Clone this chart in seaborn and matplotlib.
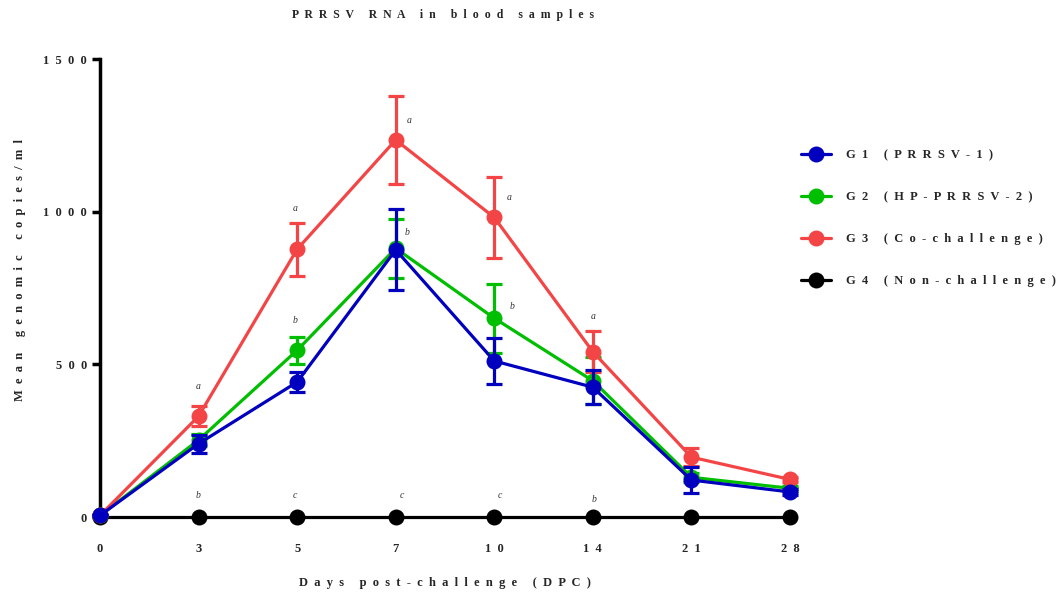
import numpy as np
import pandas as pd
import matplotlib
matplotlib.use("Agg")
import matplotlib.pyplot as plt
import seaborn as sns
from matplotlib.lines import Line2D


def spread(s):
    """Letter-spaced rendering of a label."""
    return "  ".join(s)


# Sampling days (categorical, equally spaced on the axis)
days = [0, 3, 5, 7, 10, 14, 21, 28]

groups = ["G1 (PRRSV-1)",
          "G2 (HP-PRRSV-2)",
          "G3 (Co-challenge)",
          "G4 (Non-challenge)"]
colors = ["#0000BE", "#00BE00", "#F44546", "#000000"]

# Mean genomic copies/ml and SEM per group
g1_mean = [5, 240, 442, 875, 511, 425, 121, 82]
g1_sem = [0, 30, 32, 133, 76, 55, 42, 10]
g2_mean = [5, 252, 546, 880, 651, 446, 130, 94]
g2_sem = [0, 20, 44, 97, 113, 77, 15, 8]
g3_mean = [5, 330, 877, 1235, 981, 541, 196, 123]
g3_sem = [0, 33, 87, 143, 132, 67, 30, 8]
g4_mean = [0, 0, 0, 0, 0, 0, 0, 0]
g4_sem = [0, 0, 0, 0, 0, 0, 0, 0]

means = [g1_mean, g2_mean, g3_mean, g4_mean]
sems = [g1_sem, g2_sem, g3_sem, g4_sem]

# Significance letters: (day index, y position, letter, x shift in categories)
sig_letters = [
    (1, 426, "a", 0.0), (1, 70, "b", 0.0),
    (2, 1012, "a", -0.02), (2, 642, "b", -0.02), (2, 70, "c", -0.02),
    (3, 1297, "a", 0.14), (3, 933, "b", 0.12), (3, 70, "c", 0.06),
    (4, 1045, "a", 0.15), (4, 691, "b", 0.18), (4, 70, "c", 0.06),
    (5, 658, "a", 0.0), (5, 58, "b", 0.01),
]

rows = []
for g, m, s in zip(groups, means, sems):
    for i, (d, mv, sv) in enumerate(zip(days, m, s)):
        rows.append({"group": g, "pos": i, "day": d, "mean": mv, "sem": sv})
df = pd.DataFrame(rows)

sns.set_theme(style="white")
serif = ["Liberation Serif", "DejaVu Serif"]
plt.rcParams["font.family"] = serif

fig = plt.figure(figsize=(10.64, 5.92), dpi=100)
ax = fig.add_axes([100 / 1064, 1 - 517 / 592, 690 / 1064, 458 / 592])

draw_order = [3, 1, 2, 0]
for k, gi in enumerate(draw_order):
    sub = df[df["group"] == groups[gi]]
    z = 3 + k
    sns.lineplot(data=sub, x="pos", y="mean", ax=ax, color=colors[gi],
                 linewidth=2.3, marker="o", markersize=11.5,
                 markeredgewidth=0, legend=False, zorder=z, clip_on=False)
    if gi != 3:
        ax.errorbar(sub["pos"], sub["mean"], yerr=sub["sem"], fmt="none",
                    ecolor=colors[gi], elinewidth=2.3, capsize=5.5,
                    capthick=2.3, zorder=z, clip_on=False)

for pos, yv, letter, dx in sig_letters:
    ax.text(pos + dx, yv, letter, fontsize=7, style="italic",
            color="#333333", ha="center", va="center", family=serif)

ax.set_xlim(0, 7)
ax.set_ylim(0, 1500)
ax.set_xticks(range(len(days)))
ax.set_xticklabels([spread(str(d)) for d in days], fontsize=9,
                   fontweight="bold")
yticks = [0, 500, 1000, 1500]
ax.set_yticks(yticks)
ax.set_yticklabels([spread(str(v)) for v in yticks], fontsize=9,
                   fontweight="bold")
ax.tick_params(axis="y", length=5.5, width=2.5, direction="out", pad=4,
               left=True, color="black")
ax.tick_params(axis="x", length=0, pad=19)
for side in ["top", "right", "bottom"]:
    ax.spines[side].set_visible(False)
ax.spines["left"].set_linewidth(2.5)
ax.spines["left"].set_color("black")
ax.set_xlabel(spread("Days post-challenge (DPC)"), fontsize=9,
              fontweight="bold")
ax.set_ylabel(spread("Mean genomic copies/ml"), fontsize=9,
              fontweight="bold")
ax.xaxis.set_label_coords(0.5, -60 / 458)
ax.yaxis.set_label_coords(-74 / 690, 247 / 458)
fig.text(443 / 1064, 1 - 15 / 592, spread("PRRSV RNA in blood samples"),
         fontsize=8.5, fontweight="bold", ha="center", va="center")

handles = [Line2D([0], [0], color=c, linewidth=2.3, marker="o",
                  markersize=11.5, markeredgewidth=0) for c in colors]
leg = fig.legend(handles, [spread(g) for g in groups], loc="upper left",
                 bbox_to_anchor=(790 / 1064, 1 - 138 / 592), frameon=False,
                 prop={"family": serif, "weight": "bold", "size": 9},
                 handlelength=2.4, handletextpad=1.2, labelspacing=2.4)

fig.savefig("out.png", dpi=100)
